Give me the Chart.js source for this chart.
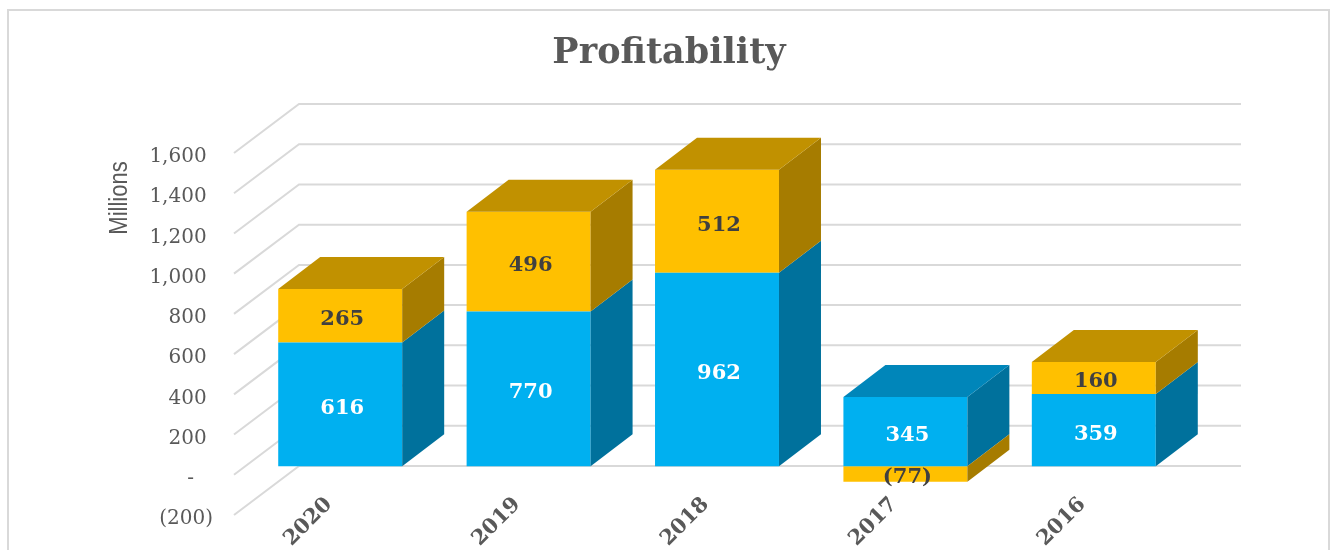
<!DOCTYPE html>
<html>
<head>
<meta charset="utf-8">
<title>Profitability</title>
<script src="https://cdn.jsdelivr.net/npm/chart.js@4"></script>
<style>
  html, body { margin: 0; padding: 0; background: #fff; overflow: hidden; }
  #frame { position: absolute; left: 7px; top: 9px; width: 1319px; height: 600px; border: 2px solid #d9d9d9; }
  #profitChart { position: absolute; left: 0; top: 0; }
</style>
</head>
<body>
<div id="frame"></div>
<canvas id="profitChart" width="1331" height="550"></canvas>
<script>
const years = ['2020', '2019', '2018', '2017', '2016'];
const blueValues = [616, 770, 962, 345, 359];
const amberValues = [265, 496, 512, -77, 160];
const blueLabels = ['616', '770', '962', '345', '359'];
const amberLabels = ['265', '496', '512', '(77)', '160'];
// ascending, trailing spaces copy the Excel number format padding
const yTickLabels = ['(200)', '-   ', '200 ', '400 ', '600 ', '800 ', '1,000 ', '1,200 ', '1,400 ', '1,600 '];

const SERIF = '"DejaVu Serif", serif';
const GRID = '#d9d9d9';

// 3D look: floor depth of the gridlines, bar position on the floor, bar depth
const floorDx = 65, floorDy = 49;
const barOffsetX = 12, barOffsetY = -8.5;
const barDx = 42, barDy = 32;

const faceColors = [
  { side: '#00719c', top: '#0086ba' },
  { side: '#a67c00', top: '#c19100' }
];

function poly(ctx, color, pts) {
  ctx.fillStyle = color;
  ctx.beginPath();
  ctx.moveTo(pts[0][0], pts[0][1]);
  for (let i = 1; i < pts.length; i++) ctx.lineTo(pts[i][0], pts[i][1]);
  ctx.closePath();
  ctx.fill();
}

const walls = {
  id: 'walls',
  beforeDatasetsDraw(chart) {
    const { ctx, chartArea, scales } = chart;
    ctx.save();
    ctx.strokeStyle = GRID;
    ctx.lineWidth = 2;
    scales.y.ticks.forEach(t => {
      const y = scales.y.getPixelForValue(t.value);
      ctx.beginPath();
      ctx.moveTo(chartArea.left, y);
      ctx.lineTo(chartArea.left + floorDx, y - floorDy);
      ctx.lineTo(chartArea.right + floorDx, y - floorDy);
      ctx.stroke();
    });
    ctx.restore();
    // bars stand a little way back on the floor
    ctx.save();
    ctx.translate(barOffsetX, barOffsetY);
  },
  afterDatasetsDraw(chart) {
    const { ctx, chartArea, scales } = chart;
    const metas = chart.data.datasets.map((d, i) => chart.getDatasetMeta(i));

    // side and top faces
    metas.forEach((meta, ds) => {
      meta.data.forEach((bar, i) => {
        const right = bar.x + bar.width / 2;
        const left = bar.x - bar.width / 2;
        const top = Math.min(bar.y, bar.base);
        const bottom = Math.max(bar.y, bar.base);
        poly(ctx, faceColors[ds].side, [
          [right, top], [right + barDx, top - barDy],
          [right + barDx, bottom - barDy], [right, bottom]
        ]);
        // only the highest segment of a stack shows its top
        const covered = metas.some(m => m.data[i].y < top);
        if (!covered) {
          poly(ctx, faceColors[ds].top, [
            [left, top], [left + barDx, top - barDy],
            [right + barDx, top - barDy], [right, top]
          ]);
        }
      });
    });

    // data labels
    ctx.font = 'bold 21px ' + SERIF;
    ctx.textAlign = 'center';
    ctx.textBaseline = 'middle';
    metas[1].data.forEach((bar, i) => {
      ctx.fillStyle = '#404040';
      ctx.fillText(amberLabels[i], bar.x + 2, (bar.y + bar.base) / 2 + 4);
    });
    metas[0].data.forEach((bar, i) => {
      ctx.fillStyle = '#ffffff';
      ctx.fillText(blueLabels[i], bar.x + 2, (bar.y + bar.base) / 2 + 4);
    });
    ctx.restore();

    // category labels: Chart.js clips tick labels to the axis box, these reach above it
    ctx.save();
    ctx.font = 'bold 21px ' + SERIF;
    ctx.textAlign = 'center';
    ctx.textBaseline = 'middle';
    ctx.fillStyle = '#595959';
    years.forEach((year, i) => {
      ctx.save();
      ctx.translate(scales.x.getPixelForValue(i) - 20, chartArea.bottom + 7);
      ctx.rotate(-Math.PI / 4);
      ctx.fillText(year, 0, 0);
      ctx.restore();
    });
    ctx.restore();

    // axis name, set narrow like the original
    ctx.save();
    ctx.translate(120, 198);
    ctx.rotate(-Math.PI / 2);
    ctx.scale(0.88, 1);
    ctx.font = '25px "Liberation Sans", sans-serif';
    ctx.textAlign = 'center';
    ctx.textBaseline = 'middle';
    ctx.fillStyle = '#595959';
    ctx.fillText('Millions', 0, 0);
    ctx.restore();
  }
};

new Chart(document.getElementById('profitChart').getContext('2d'), {
  type: 'bar',
  data: {
    labels: years,
    datasets: [
      { label: 'Blue', data: blueValues, backgroundColor: '#00b0f0' },
      { label: 'Amber', data: amberValues, backgroundColor: '#ffc000' }
    ]
  },
  options: {
    responsive: false,
    animation: false,
    layout: { padding: { left: 7 } },
    datasets: { bar: { barPercentage: 1, categoryPercentage: 0.658, clip: false } },
    plugins: {
      legend: { display: false },
      tooltip: { enabled: false },
      title: {
        display: true,
        text: 'Profitability',
        color: '#595959',
        font: { family: SERIF, size: 35, weight: 'bold', lineHeight: 1.2 },
        padding: { top: 33, bottom: 78 }
      }
    },
    scales: {
      x: {
        stacked: true,
        grid: { display: false },
        border: { display: false },
        // room on the right for the floor depth, title stays centred on the page
        afterFit(scale) { scale.height = 35; scale.paddingRight = 1331 - 1176; },
        ticks: { display: false }
      },
      y: {
        stacked: true,
        min: -200,
        max: 1600,
        grid: { display: false },
        border: { display: false },
        afterFit(scale) { scale.width = 227; },
        ticks: {
          stepSize: 200,
          color: '#595959',
          font: { family: SERIF, size: 20 },
          padding: 13,
          labelOffset: 4,
          callback(value, index) { return yTickLabels[index]; }
        }
      }
    }
  },
  plugins: [walls]
});
</script>
</body>
</html>
